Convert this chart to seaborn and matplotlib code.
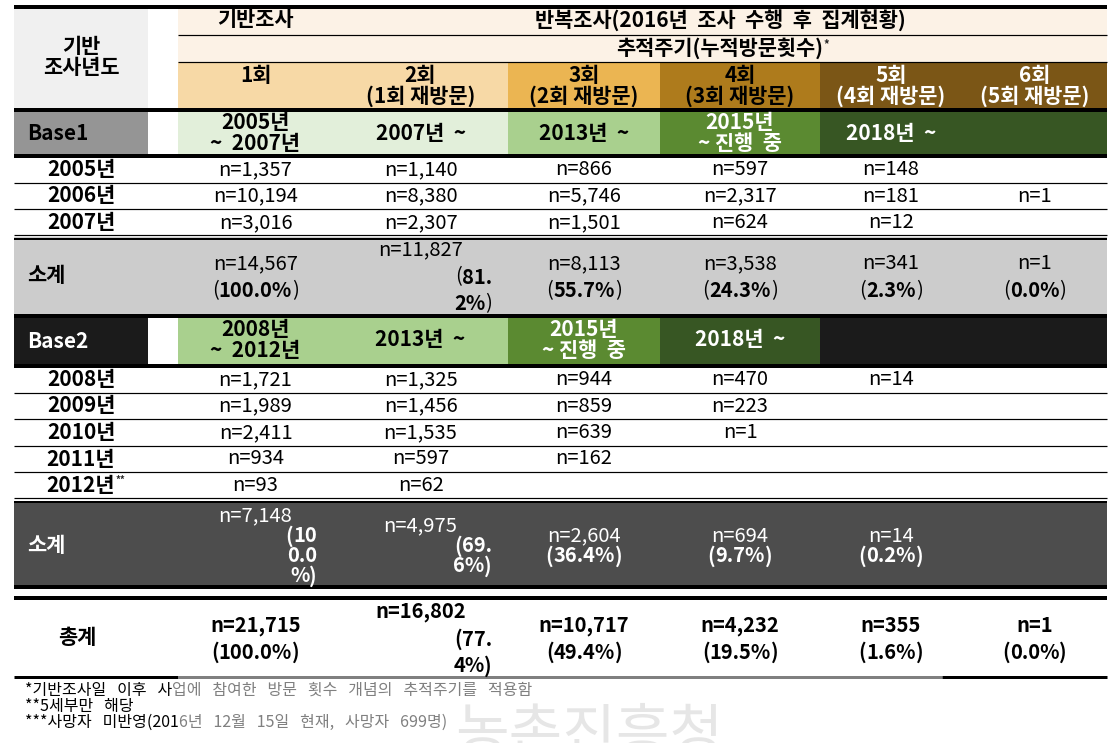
import re
import matplotlib
matplotlib.use('Agg')
import matplotlib.pyplot as plt
from matplotlib.patches import Rectangle, Arc
import seaborn as sns

visit_labels = ['1회', '2회\n(1회 재방문)', '3회\n(2회 재방문)', '4회\n(3회 재방문)',
                '5회\n(4회 재방문)', '6회\n(5회 재방문)']
periods_base1 = ['2005년\n~  2007년', '2007년  ~', '2013년  ~', '2015년\n~ 진행  중', '2018년  ~', '']
periods_base2 = ['2008년\n~  2012년', '2013년  ~', '2015년\n~ 진행  중', '2018년  ~', '', '']

years_base1 = ['2005년', '2006년', '2007년']
counts_base1 = [
    [1357, 1140, 866, 597, 148, None],
    [10194, 8380, 5746, 2317, 181, 1],
    [3016, 2307, 1501, 624, 12, None],
]
sub_n_base1 = [14567, 11827, 8113, 3538, 341, 1]
sub_pct_base1 = [100.0, 81.2, 55.7, 24.3, 2.3, 0.0]

years_base2 = ['2008년', '2009년', '2010년', '2011년', '2012년']
counts_base2 = [
    [1721, 1325, 944, 470, 14, None],
    [1989, 1456, 859, 223, None, None],
    [2411, 1535, 639, 1, None, None],
    [934, 597, 162, None, None, None],
    [93, 62, None, None, None, None],
]
sub_n_base2 = [7148, 4975, 2604, 694, 14, None]
sub_pct_base2 = [100.0, 69.6, 36.4, 9.7, 0.2, None]

total_n = [21715, 16802, 10717, 4232, 355, 1]
total_pct = [100.0, 77.4, 49.4, 19.5, 1.6, 0.0]

# footnotes: (black part, grey part)
footnotes = [('*기반조사일   이후   사', '업에   참여한   방문   횟수   개념의   추적주기를   적용함'),
             ('**5세부만   해당', ''),
             ('***사망자   미반영(201', '6년   12월   15일   현재,   사망자   699명)')]

# ---- layout ----
W, H = 1119, 743
FS = 15
FS_N = 14.5
X0, XLAB, X1 = 14, 148, 1107
CE = [178, 333, 508, 660, 820, 962, 1107]   # column edges of the 6 visit columns

sns.set_theme(style='white')
plt.rcParams['font.family'] = ['Noto Sans CJK KR', 'DejaVu Sans']

fig = plt.figure(figsize=(W / 100, H / 100), dpi=100)
ax = fig.add_axes([0, 0, 1, 1])
ax.set_xlim(0, W)
ax.set_ylim(H, 0)
ax.axis('off')
renderer = fig.canvas.get_renderer()


def cx(i):
    return (CE[i] + CE[i + 1]) / 2


def box(x0, x1, y0, y1, color):
    ax.add_patch(Rectangle((x0, y0), x1 - x0, y1 - y0, facecolor=color, edgecolor='none', zorder=1))


def hline(y, x0, x1, px, color='black'):
    ax.plot([x0, x1], [y, y], color=color, lw=px * 0.72, solid_capstyle='butt', zorder=3)


def txt(x, y, s, size=FS, weight='bold', color='black', ha='center', **kw):
    return ax.text(x, y, s, fontsize=size, fontweight=weight, color=color, ha=ha,
                   va='center', zorder=4, **kw)


def mixed(x, y, s, ha='center', color='black', all_bold=False):
    # parentheses thin, numbers bold (like the source table)
    parts = [p for p in re.split(r'([()])', s) if p]
    items = []
    for p in parts:
        w = 'bold' if (all_bold or p not in '()') else 'normal'
        t = txt(0, y, p, size=FS_N, weight=w, color=color, ha='left')
        items.append((t, t.get_window_extent(renderer).width))
    total = sum(w for _, w in items)
    start = x - total / 2 if ha == 'center' else (x - total if ha == 'right' else x)
    for t, w in items:
        t.set_x(start)
        start += w


def fmt_n(v):
    return f'n={v:,}'


def fmt_p(v):
    return f'({v:.1f}%)'


def summary_row(ns, pcts, yc, spacing, wraps, color, n_bold, all_bold):
    for i, (n, p) in enumerate(zip(ns, pcts)):
        if n is None:
            continue
        w = wraps[i]
        nw = 'bold' if n_bold else 'normal'
        if w is None:
            txt(cx(i), yc - spacing / 2, fmt_n(n), size=FS_N, weight=nw, color=color)
            mixed(cx(i), yc + spacing / 2, fmt_p(p), color=color, all_bold=all_bold)
        else:
            s = fmt_p(p)
            chunks = [s[j:j + w] for j in range(0, len(s), w)]
            lines = len(chunks) + 1
            top = yc - spacing * (lines - 1) / 2
            txt(cx(i), top, fmt_n(n), size=FS_N, weight=nw, color=color)
            for k, ch in enumerate(chunks):
                mixed(CE[i + 1] - 16, top + spacing * (k + 1), ch, ha='right', color=color,
                      all_bold=all_bold)


# ---- header ----
box(X0, XLAB, 7, 110, '#f0f0f0')
box(CE[0], X1, 7, 62, '#fcf2e6')
head_fill = ['#f7d9a6', '#f7d9a6', '#ebb552', '#ae7b1c', '#7b5616', '#7b5616']
head_txt = ['black', 'black', 'black', 'black', 'white', 'white']
for i, lab in enumerate(visit_labels):
    box(CE[i], CE[i + 1], 62, 110, head_fill[i])
    lines = lab.split('\n')
    txt(cx(i), 75, lines[0], color=head_txt[i])
    if len(lines) > 1:
        txt(cx(i), 96, lines[1], color=head_txt[i])

txt((X0 + XLAB) / 2, 57, '기반\n조사년도', linespacing=1.05)
txt(cx(0), 20, '기반조사')
txt((CE[1] + X1) / 2, 20, '반복조사(2016년  조사  수행  후  집계현황)')
t = txt((CE[1] + X1) / 2, 48, '추적주기(누적방문횟수)')
ax.annotate('*', xy=(1, 1), xycoords=t, xytext=(0, -1), textcoords='offset points',
            fontsize=8, fontweight='bold', va='top', ha='left')

# ---- Base1 block ----
base1_fill = ['#e2efda', '#e2efda', '#a9d08e', '#5b8a31', '#375623', '#375623']
base1_txt = ['black', 'black', 'black', 'white', 'white', 'white']
box(X0, XLAB, 110, 156, '#959595')
txt(27, 134, 'Base1', ha='left')
for i, p in enumerate(periods_base1):
    box(CE[i], CE[i + 1], 110, 156, base1_fill[i])
    txt(cx(i), 133, p, color=base1_txt[i], linespacing=1.0)

row_y1 = [156, 183, 209, 236]
for r, (yr, row) in enumerate(zip(years_base1, counts_base1)):
    yc = (row_y1[r] + row_y1[r + 1]) / 2
    txt((X0 + XLAB) / 2, yc, yr)
    for i, v in enumerate(row):
        if v is not None:
            txt(cx(i), yc, fmt_n(v), size=FS_N, weight='normal')

box(X0, X1, 237, 316, '#cccccc')
txt(27, 276, '소계', ha='left')
summary_row(sub_n_base1, sub_pct_base1, 277, 27, [None, 4, None, None, None, None],
            'black', False, False)

# ---- Base2 block ----
base2_fill = ['#a9d08e', '#a9d08e', '#5b8a31', '#375623', '#1b1b1b', '#1b1b1b']
base2_txt = ['black', 'black', 'white', 'white', 'white', 'white']
box(X0, XLAB, 316, 366, '#1b1b1b')
txt(27, 341, 'Base2', color='white', ha='left')
for i, p in enumerate(periods_base2):
    box(CE[i], CE[i + 1], 316, 366, base2_fill[i])
    txt(cx(i), 340, p, color=base2_txt[i], linespacing=1.0)

row_y2 = [366, 393, 419, 446, 472, 499]
for r, (yr, row) in enumerate(zip(years_base2, counts_base2)):
    yc = (row_y2[r] + row_y2[r + 1]) / 2
    t = txt((X0 + XLAB) / 2, yc, yr)
    if r == len(years_base2) - 1:
        ax.annotate('**', xy=(1, 1), xycoords=t, xytext=(0, 0), textcoords='offset points',
                    fontsize=7, fontweight='bold', va='top', ha='left')
    for i, v in enumerate(row):
        if v is not None:
            txt(cx(i), yc, fmt_n(v), size=FS_N, weight='normal')

box(X0, X1, 501, 587, '#4d4d4d')
txt(27, 546, '소계', color='white', ha='left')
summary_row(sub_n_base2, sub_pct_base2, 546, 20, [3, 4, None, None, None, None],
            'white', False, True)

# ---- total ----
txt(77, 637, '총계')
summary_row(total_n, total_pct, 639, 27, [None, 4, None, None, None, None],
            'black', True, True)

# ---- rules ----
hline(7, X0, X1, 4)
hline(35, CE[0], X1, 1.2)
hline(62, CE[0], X1, 1.2)
hline(110, X0, X1, 4)
hline(156, X0, X1, 4)
for y in row_y1[1:-1]:
    hline(y, X0, X1, 1.2)
hline(235, X0, X1, 1.2)
hline(238.5, X0, X1, 2)
hline(316, X0, X1, 4)
hline(366, X0, X1, 4)
for y in row_y2[1:-1]:
    hline(y, X0, X1, 1.2)
hline(498, X0, X1, 1.2)
hline(501.5, X0, X1, 2)
hline(587, X0, X1, 4)
hline(598, X0, X1, 4)
hline(677, X0, CE[0], 3)
hline(677, CE[0], 942, 3, color='#808080')
hline(677, 942, X1, 3)

# ---- watermark (faint, behind the notes, cut by the bottom edge) ----
ax.add_patch(Arc((318, 790), 150, 150, theta1=25, theta2=155, color='#f3caca', lw=5, zorder=0))
ax.text(455, 766, '농촌진흥청', fontsize=42, color='#e6e6e6', ha='left', va='bottom', zorder=0)

# ---- footnotes ----
for k, (blk, grey) in enumerate(footnotes):
    y = 690 + k * 16
    t = ax.text(25, y, blk, fontsize=11.5, color='black', ha='left', va='center', zorder=6)
    if grey:
        ax.annotate(grey, xy=(1, 0.5), xycoords=t, xytext=(0, 0), textcoords='offset points',
                    fontsize=11.5, color='#808080', ha='left', va='center', zorder=6)

fig.savefig('out.png', dpi=100)
